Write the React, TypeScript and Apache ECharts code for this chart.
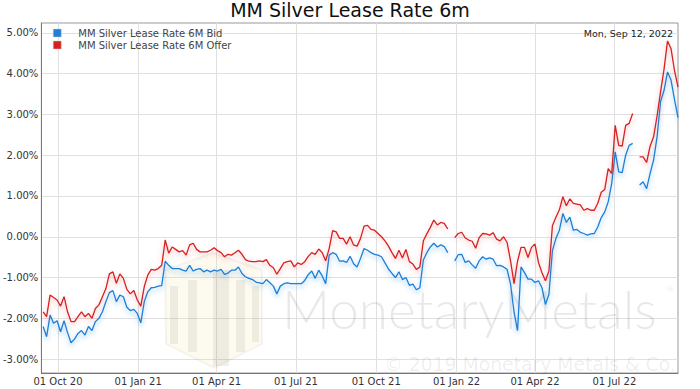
import React, { useEffect, useRef } from 'react';
import * as echarts from 'echarts';

const titleText = 'MM Silver Lease Rate 6m';
const dateStamp = 'Mon, Sep 12, 2022';
const seriesNames = ['MM Silver Lease Rate 6M Bid', 'MM Silver Lease Rate 6M Offer'];
const seriesColors = ['#1f7fd6', '#d62020'];

// sampled every 4 days starting at sampleStart
const sampleStart = '2020-09-14';
const sampleStepDays = 4;

const bidValues = [
  -2.20, -2.45, -1.92, -2.12, -2.06, -2.33, -2.06, -2.35, -2.60, -2.51,
  -2.37, -2.30, -2.41, -2.20, -2.30, -2.08, -2.00, -1.84, -1.59, -1.37,
  -1.32, -1.59, -1.43, -1.47, -1.73, -1.81, -1.78, -1.88, -2.11, -1.59,
  -1.35, -1.25, -1.24, -1.21, -1.20, -0.60, -0.70, -0.78, -0.78, -0.78,
  -0.82, -0.84, -0.70, -0.84, -0.80, -0.78, -0.86, -0.82, -0.86, -0.82,
  -0.84, -0.80, -0.92, -0.89, -0.82, -0.82, -0.74, -0.90, -0.98, -1.02,
  -1.05, -1.11, -1.13, -1.15, -1.05, -1.13, -1.21, -1.40, -1.21, -1.15,
  -1.13, -1.15, -1.15, -1.15, -1.15, -1.07, -0.93, -0.84, -1.02, -0.82,
  -0.96, -1.15, -0.45, -0.39, -0.43, -0.60, -0.59, -0.63, -0.48, -0.66,
  -0.74, -0.53, -0.29, -0.33, -0.39, -0.43, -0.45, -0.49, -0.64, -0.79,
  -0.90, -1.00, -0.86, -1.05, -1.00, -1.19, -1.16, -1.30, -1.25, -0.57,
  -0.39, -0.25, -0.16, -0.25, -0.20, -0.24, -0.39, null, -0.59, -0.44,
  -0.43, -0.63, -0.59, -0.69, -0.77, -0.59, -0.49, -0.55, -0.52, -0.55,
  -0.71, -0.70, -0.74, -0.80, -1.16, -1.85, -2.30, -0.74, -0.88, -1.04,
  -1.04, -1.12, -1.08, -1.25, -1.66, -1.41, -0.34, -0.04, 0.16, 0.57,
  0.35, 0.48, 0.16, 0.18, 0.11, 0.08, 0.04, 0.07, 0.08, 0.24,
  0.47, 0.61, 0.86, 1.31, 2.08, 1.59, 1.57, 2.00, 2.24, 2.29,
  null, 1.27, 1.35, 1.18, 1.55, 1.88, 2.45, 3.31, 3.59, 4.04,
  3.84, 3.36, 2.92,
];

const offerValues = [
  -1.84, -1.96, -1.43, -1.49, -1.55, -1.70, -1.47, -1.84, -2.08, -2.08,
  -1.96, -1.84, -1.96, -1.88, -2.00, -1.76, -1.67, -1.47, -1.27, -0.91,
  -0.86, -1.14, -0.91, -1.02, -1.29, -1.40, -1.32, -1.55, -1.70, -1.22,
  -0.94, -0.80, -0.82, -0.78, -0.70, -0.08, -0.40, -0.25, -0.31, -0.37,
  -0.34, -0.45, -0.20, -0.16, -0.31, -0.37, -0.37, -0.37, -0.33, -0.27,
  -0.34, -0.39, -0.49, -0.43, -0.45, -0.39, -0.33, -0.43, -0.56, -0.60,
  -0.61, -0.61, -0.59, -0.61, -0.56, -0.70, -0.76, -0.92, -0.78, -0.64,
  -0.61, -0.59, -0.74, -0.64, -0.68, -0.61, -0.48, -0.39, -0.43, -0.30,
  -0.39, -0.59, -0.29, 0.15, 0.12, -0.04, -0.04, -0.18, 0.00, -0.20,
  -0.23, -0.04, 0.26, 0.28, 0.18, 0.16, 0.08, 0.00, -0.10, -0.23,
  -0.39, -0.53, -0.33, -0.52, -0.31, -0.61, -0.67, -0.80, -0.74, -0.10,
  0.07, 0.23, 0.41, 0.29, 0.35, 0.33, 0.19, null, -0.02, 0.08,
  0.11, -0.03, -0.08, -0.11, -0.28, -0.02, 0.08, 0.07, 0.04, 0.10,
  -0.06, -0.10, 0.00, -0.14, -0.59, -1.15, -0.60, -0.26, -0.26, -0.51,
  -0.26, -0.18, -0.63, -0.88, -1.08, -0.84, 0.27, 0.48, 0.66, 0.98,
  0.76, 0.93, 0.82, 0.80, 0.78, 0.65, 0.69, 0.65, 0.65, 0.82,
  1.09, 1.16, 1.67, 1.55, 2.73, 2.24, 2.22, 2.73, 2.78, 3.02,
  null, 1.96, 1.96, 1.82, 2.22, 2.45, 2.96, 3.55, 4.11, 4.80,
  4.61, 4.07, 3.67,
];

const xAxisStart = '2020-09-12';
const xAxisEnd = '2022-09-12';
const xTickDates = ['2020-10-01', '2021-01-01', '2021-04-01', '2021-07-01', '2021-10-01', '2022-01-01', '2022-04-01', '2022-07-01'];
const xTickLabels = ['01 Oct 20', '01 Jan 21', '01 Apr 21', '01 Jul 21', '01 Oct 21', '01 Jan 22', '01 Apr 22', '01 Jul 22'];
const yTickValues = [-3, -2, -1, 0, 1, 2, 3, 4, 5];
const yMin = -3.34;
const yMax = 5.24;

const DAY = 86400000;
const utc = (s: string) => {
  const [y, m, d] = s.split('-').map(Number);
  return Date.UTC(y, m - 1, d);
};

const FONT = 'DejaVu Sans';

export default function App() {
  const ref = useRef<HTMLDivElement>(null);
  useEffect(() => {
    if (!ref.current) return;
    const chart = echarts.init(ref.current, null, { renderer: 'svg' });
    const t0 = utc(sampleStart);
    const toPairs = (vals: (number | null)[]) =>
      vals.map((v, i) => [t0 + i * sampleStepDays * DAY, v]);
    const tickTimes = xTickDates.map(utc);

    const makeSeries = (idx: number, vals: (number | null)[], shadow: string) => ({
      name: seriesNames[idx],
      type: 'line',
      data: toPairs(vals),
      showSymbol: false,
      connectNulls: false,
      color: seriesColors[idx],
      lineStyle: {
        width: 1.3,
        color: seriesColors[idx],
        shadowColor: shadow,
        shadowBlur: 5,
        shadowOffsetY: 2.5,
      },
      z: 3,
    });

    const wm = 'rgba(0,0,0,0.06)';
    chart.setOption({
      animation: false,
      backgroundColor: '#ffffff',
      title: {
        text: titleText,
        left: 'center',
        top: 0,
        padding: 0,
        textStyle: { fontFamily: FONT, fontSize: 19, fontWeight: 'normal', color: '#111' },
      },
      legend: {
        data: seriesNames,
        orient: 'vertical',
        left: 48,
        top: 23,
        itemWidth: 8,
        itemHeight: 8,
        itemGap: 2,
        icon: 'rect',
        selectedMode: false,
        itemStyle: { borderColor: '#cccccc', borderWidth: 0.5 },
        formatter: (n: string) => `{t|${n}}`,
        textStyle: {
          fontFamily: FONT,
          fontSize: 10,
          color: '#444',
          rich: { t: { fontFamily: FONT, fontSize: 10, color: '#444', padding: [0, 0, 0, 12] } },
        },
      },
      grid: {
        left: 34,
        right: 22,
        top: 23,
        bottom: 16,
        show: true,
        borderColor: '#999',
        borderWidth: 1,
        containLabel: false,
      },
      xAxis: {
        type: 'value',
        min: utc(xAxisStart),
        max: utc(xAxisEnd),
        axisLine: { show: true, onZero: false, lineStyle: { color: '#777', width: 1 } },
        axisTick: { show: false, customValues: tickTimes },
        axisLabel: {
          customValues: tickTimes,
          fontFamily: FONT,
          fontSize: 10,
          color: '#333',
          margin: 3,
          formatter: (v: number) => {
            const k = tickTimes.indexOf(+v);
            return k >= 0 ? xTickLabels[k] : '';
          },
        },
        splitLine: { show: true, lineStyle: { color: '#e0e0e0', width: 1 } },
      },
      yAxis: {
        type: 'value',
        min: yMin,
        max: yMax,
        axisLine: { show: true, onZero: false, lineStyle: { color: '#777', width: 1 } },
        axisTick: { show: false, customValues: yTickValues },
        axisLabel: {
          customValues: yTickValues,
          fontFamily: FONT,
          fontSize: 10,
          color: '#333',
          margin: 3,
          formatter: (v: number) => `${v.toFixed(2)}%`,
        },
        splitLine: { show: true, lineStyle: { color: '#e0e0e0', width: 1 } },
      },
      graphic: [
        {
          type: 'polygon', silent: true, z: 1,
          shape: { points: [[213, 253], [262, 270], [262, 344], [214, 368], [166, 344], [165, 270]] },
          style: { fill: 'rgba(240,215,140,0.13)', stroke: 'rgba(0,0,0,0.04)', lineWidth: 2 },
        },
        { type: 'rect', silent: true, z: 1, shape: { x: 170, y: 286, width: 8, height: 58 }, style: { fill: wm } },
        { type: 'rect', silent: true, z: 1, shape: { x: 188, y: 280, width: 9, height: 72 }, style: { fill: wm } },
        { type: 'rect', silent: true, z: 1, shape: { x: 213, y: 270, width: 16, height: 96 }, style: { fill: wm } },
        { type: 'rect', silent: true, z: 1, shape: { x: 236, y: 280, width: 9, height: 72 }, style: { fill: wm } },
        { type: 'rect', silent: true, z: 1, shape: { x: 252, y: 286, width: 7, height: 56 }, style: { fill: wm } },
        {
          type: 'text', silent: true, z: 1, x: 282, y: 308,
          style: { text: 'MonetaryMetals', fontFamily: 'Lato', fontWeight: 300, fontSize: 53, fill: 'rgba(0,0,0,0.09)', verticalAlign: 'middle' },
        },
        {
          type: 'text', silent: true, z: 1, x: 666, y: 288,
          style: { text: '®', fontFamily: 'Lato', fontSize: 10, fill: 'rgba(0,0,0,0.09)', verticalAlign: 'middle' },
        },
        {
          type: 'text', silent: true, z: 1, x: 384, y: 364,
          style: { text: '© 2019 Monetary Metals & Co.', fontFamily: FONT, fontSize: 18.8, fill: 'rgba(0,0,0,0.08)', verticalAlign: 'middle' },
        },
        {
          type: 'text', silent: true, z: 10, x: 673, y: 33,
          style: { text: dateStamp, fontFamily: FONT, fontSize: 9.5, fill: '#222', align: 'right', verticalAlign: 'middle' },
        },
      ],
      series: [
        makeSeries(0, bidValues, 'rgba(40,130,220,0.45)'),
        makeSeries(1, offerValues, 'rgba(225,60,60,0.4)'),
      ],
    });
    return () => chart.dispose();
  }, []);
  return (
    <div
      ref={ref}
      style={{ position: 'fixed', left: 0, top: 0, width: 700, height: 389, background: '#fff' }}
    />
  );
}
